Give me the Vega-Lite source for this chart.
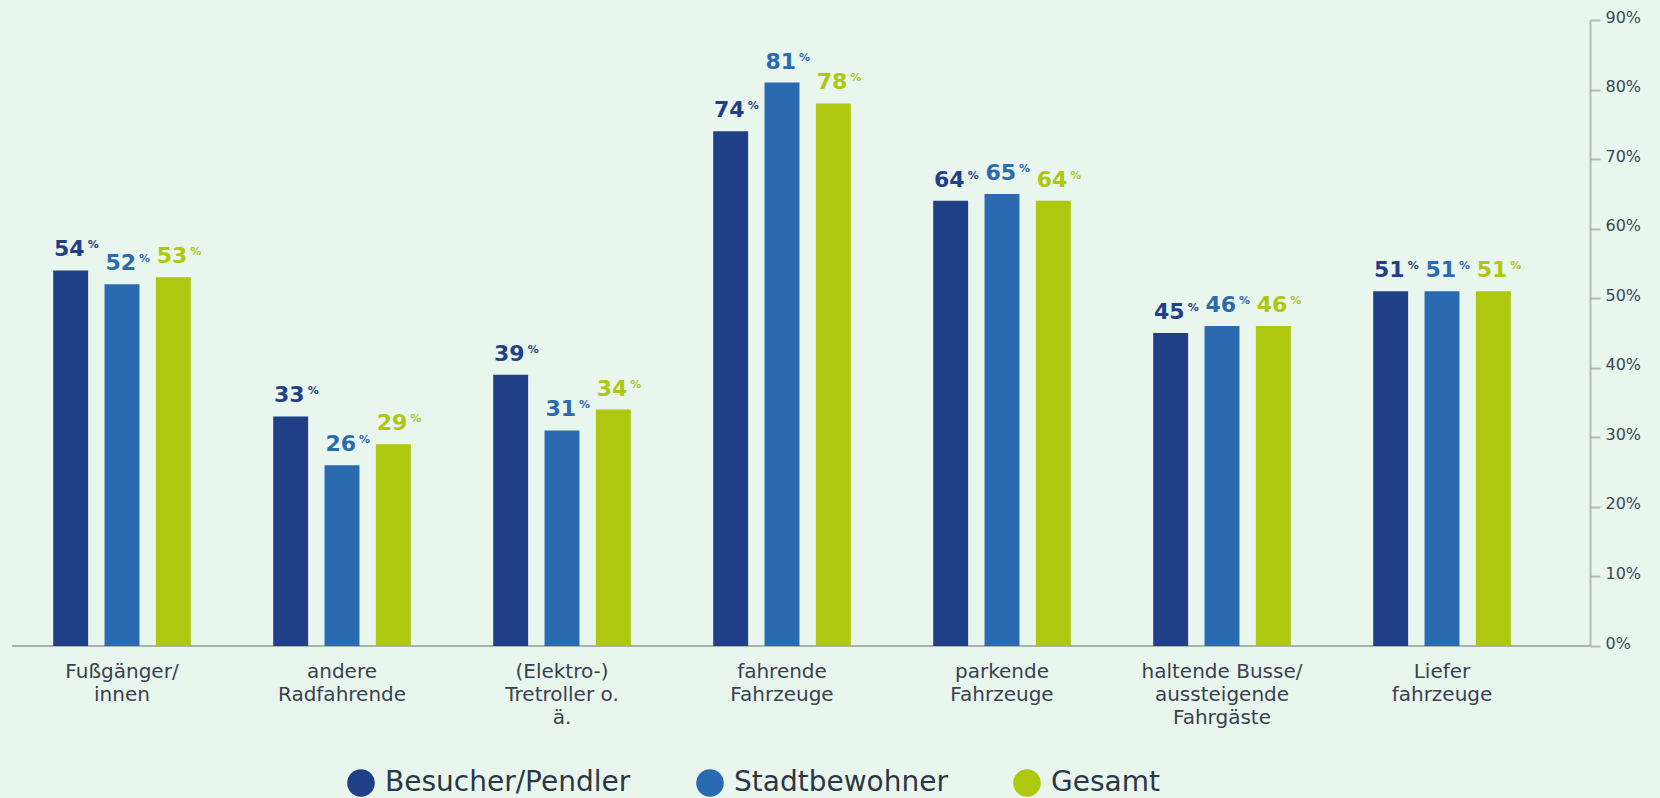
{
  "$schema": "https://vega.github.io/schema/vega-lite/v6.json",
  "width": 1578,
  "height": 626,
  "autosize": "none",
  "padding": {"left": 12, "top": 20, "right": 70, "bottom": 152},
  "background": "#e9f6ee",
  "config": {"view": {"stroke": null}, "font": "DejaVu Sans"},
  "data": {
    "values": [
      {"kategorie": "Fußgänger/|innen", "gruppe": "Besucher/Pendler", "wert": 54},
      {"kategorie": "Fußgänger/|innen", "gruppe": "Stadtbewohner", "wert": 52},
      {"kategorie": "Fußgänger/|innen", "gruppe": "Gesamt", "wert": 53},
      {"kategorie": "andere|Radfahrende", "gruppe": "Besucher/Pendler", "wert": 33},
      {"kategorie": "andere|Radfahrende", "gruppe": "Stadtbewohner", "wert": 26},
      {"kategorie": "andere|Radfahrende", "gruppe": "Gesamt", "wert": 29},
      {"kategorie": "(Elektro-)|Tretroller o.|ä.", "gruppe": "Besucher/Pendler", "wert": 39},
      {"kategorie": "(Elektro-)|Tretroller o.|ä.", "gruppe": "Stadtbewohner", "wert": 31},
      {"kategorie": "(Elektro-)|Tretroller o.|ä.", "gruppe": "Gesamt", "wert": 34},
      {"kategorie": "fahrende|Fahrzeuge", "gruppe": "Besucher/Pendler", "wert": 74},
      {"kategorie": "fahrende|Fahrzeuge", "gruppe": "Stadtbewohner", "wert": 81},
      {"kategorie": "fahrende|Fahrzeuge", "gruppe": "Gesamt", "wert": 78},
      {"kategorie": "parkende|Fahrzeuge", "gruppe": "Besucher/Pendler", "wert": 64},
      {"kategorie": "parkende|Fahrzeuge", "gruppe": "Stadtbewohner", "wert": 65},
      {"kategorie": "parkende|Fahrzeuge", "gruppe": "Gesamt", "wert": 64},
      {"kategorie": "haltende Busse/|aussteigende|Fahrgäste", "gruppe": "Besucher/Pendler", "wert": 45},
      {"kategorie": "haltende Busse/|aussteigende|Fahrgäste", "gruppe": "Stadtbewohner", "wert": 46},
      {"kategorie": "haltende Busse/|aussteigende|Fahrgäste", "gruppe": "Gesamt", "wert": 46},
      {"kategorie": "Liefer|fahrzeuge", "gruppe": "Besucher/Pendler", "wert": 51},
      {"kategorie": "Liefer|fahrzeuge", "gruppe": "Stadtbewohner", "wert": 51},
      {"kategorie": "Liefer|fahrzeuge", "gruppe": "Gesamt", "wert": 51}
    ]
  },
  "layer": [
    {
      "data": {"values": [{"null": 0}]},
      "mark": {"type": "rule", "color": "#aab2b0", "strokeWidth": 2},
      "encoding": {"y": {"datum": 0, "type": "quantitative"}}
    },
    {
      "mark": {"type": "bar"},
      "encoding": {
        "x": {"field": "kategorie", "type": "nominal", "sort": null,
          "scale": {"range": [0, 1540], "paddingInner": 0.3, "paddingOuter": 0.15},
          "axis": {"title": null, "domain": false, "ticks": false, "labelAngle": 0,
            "labelExpr": "split(datum.label, '|')", "labelFontSize": 20, "labelColor": "#394150",
            "labelPadding": 15, "labelLineHeight": 23, "labelLimit": 0}},
        "xOffset": {"field": "gruppe", "type": "nominal", "sort": ["Besucher/Pendler", "Stadtbewohner", "Gesamt"],
          "scale": {"paddingInner": 0.32, "paddingOuter": 0.16}},
        "y": {"field": "wert", "type": "quantitative", "scale": {"domain": [0, 90]},
          "axis": {"orient": "right", "title": null, "values": [0, 10, 20, 30, 40, 50, 60, 70, 80, 90],
            "labelExpr": "datum.value + '%'", "grid": false, "domainColor": "#b3bab6", "domainWidth": 2,
            "tickColor": "#b3bab6", "tickWidth": 2, "tickSize": 10, "labelPadding": 5,
            "labelFontSize": 16, "labelColor": "#3b4659", "labelOffset": -3}},
        "color": {"field": "gruppe", "type": "nominal",
          "scale": {"domain": ["Besucher/Pendler", "Stadtbewohner", "Gesamt"], "range": ["#1f3f87", "#2a6ab0", "#aec70f"]},
          "legend": {"title": null, "orient": "none", "direction": "horizontal", "legendX": 335, "legendY": 749,
            "symbolType": "circle", "symbolSize": 760, "labelFontSize": 28, "labelColor": "#2d3644",
            "columnPadding": 65, "labelOffset": 10, "symbolStrokeWidth": 0, "labelLimit": 0}}
      }
    },
    {
      "mark": {"type": "text", "align": "right", "baseline": "alphabetic", "dx": 14, "dy": -14, "fontSize": 22, "fontWeight": "bold"},
      "encoding": {
        "x": {"field": "kategorie", "type": "nominal", "sort": null},
        "xOffset": {"field": "gruppe", "type": "nominal", "sort": ["Besucher/Pendler", "Stadtbewohner", "Gesamt"]},
        "y": {"field": "wert", "type": "quantitative"},
        "text": {"field": "wert", "type": "quantitative"},
        "color": {"field": "gruppe", "type": "nominal"}
      }
    },
    {
      "mark": {"type": "text", "align": "left", "baseline": "alphabetic", "dx": 17, "dy": -22, "fontSize": 11, "fontWeight": "bold"},
      "encoding": {
        "x": {"field": "kategorie", "type": "nominal", "sort": null},
        "xOffset": {"field": "gruppe", "type": "nominal", "sort": ["Besucher/Pendler", "Stadtbewohner", "Gesamt"]},
        "y": {"field": "wert", "type": "quantitative"},
        "text": {"value": "%"},
        "color": {"field": "gruppe", "type": "nominal"}
      }
    }
  ]
}
